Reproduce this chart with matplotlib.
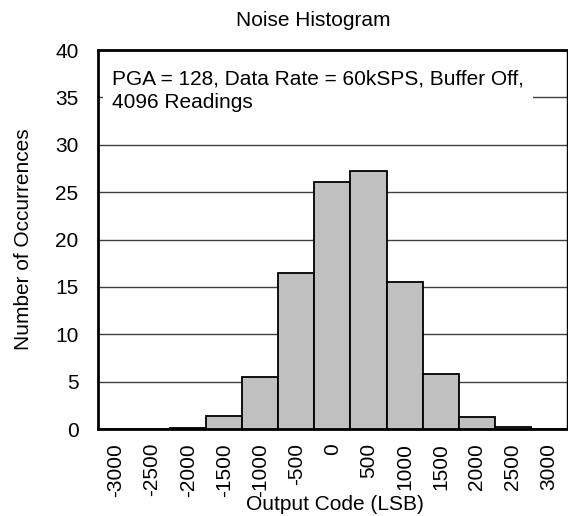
import matplotlib
matplotlib.use("Agg")
import matplotlib.pyplot as plt

# ===============================
# data
# ===============================
codes = ["-3000", "-2500", "-2000", "-1500", "-1000", "-500", "0",
         "500", "1000", "1500", "2000", "2500", "3000"]
occurrences = [0.0, 0.05, 0.15, 1.35, 5.5, 16.5, 26.05,
               27.2, 15.5, 5.8, 1.3, 0.25, 0.05]
y_ticks = [0, 5, 10, 15, 20, 25, 30, 35, 40]

plt.rcParams["font.family"] = ["Liberation Sans", "DejaVu Sans"]

fig = plt.figure(figsize=(5.68, 5.16), dpi=100)
ax = fig.add_axes([0.1725, 0.1686, 0.8255, 0.7345])

x = list(range(len(codes)))
ax.bar(x, occurrences, width=1.0, color="#c0c0c0", edgecolor="black",
       linewidth=1.3, zorder=3)

ax.set_xlim(-0.5, len(codes) - 0.5)
ax.set_ylim(0, 40)
ax.set_yticks(y_ticks)
ax.set_yticklabels([str(v) for v in y_ticks], fontsize=15)
ax.set_xticks(x)
ax.set_xticklabels(codes, rotation=90, fontsize=15)
ax.tick_params(axis="both", length=0)
ax.tick_params(axis="y", pad=14)
ax.tick_params(axis="x", pad=10)

ax.yaxis.grid(True, color="#404040", linewidth=1.0, zorder=0)
ax.set_axisbelow(True)

for side in ["left", "bottom", "top"]:
    ax.spines[side].set_linewidth(2.0)
ax.spines["right"].set_linewidth(1.0)

ax.set_ylabel("Number of Occurrences", fontsize=15, va="center")
ax.yaxis.set_label_coords(-0.159, 0.5)
ax.set_xlabel("Output Code (LSB)", fontsize=15, va="center")
ax.xaxis.set_label_coords(0.505, -0.2005)

fig.text(313 / 568, 1 - 21 / 516, "Noise Histogram", fontsize=15,
         ha="center", va="center")

ax.text(0.03, 0.893, "PGA = 128, Data Rate = 60kSPS, Buffer Off,\n4096 Readings",
        transform=ax.transAxes, fontsize=15, ha="left", va="center",
        linespacing=1.3, zorder=4,
        bbox=dict(boxstyle="square,pad=0.45", facecolor="white", edgecolor="none"))

plt.savefig("out.png", dpi=100)
plt.close()
